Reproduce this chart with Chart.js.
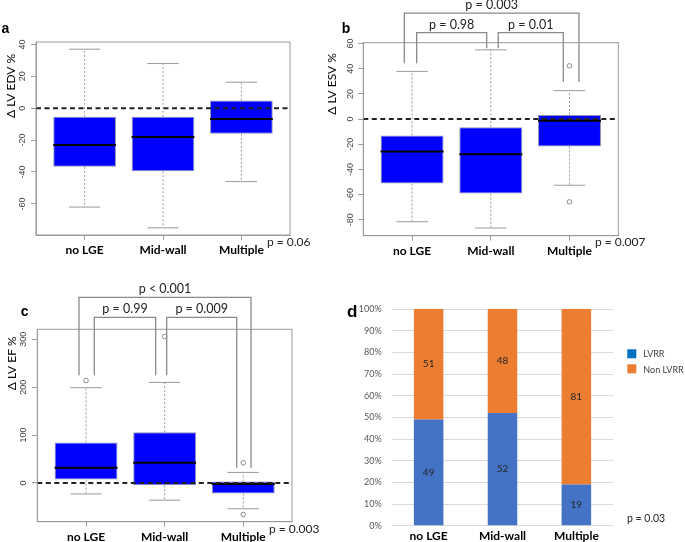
<!DOCTYPE html>
<html>
<head>
<meta charset="utf-8">
<script src="https://cdn.jsdelivr.net/npm/chart.js@4"></script>
<style>
html, body { margin: 0; padding: 0; background: #fff; overflow: hidden; }
#wrap { position: relative; width: 685px; height: 542px; }
canvas { position: absolute; }
</style>
</head>
<body>
<div id="wrap">
<canvas id="chartA" width="320" height="270" style="left:0;top:0"></canvas>
<canvas id="chartB" width="365" height="270" style="left:320px;top:0"></canvas>
<canvas id="chartC" width="340" height="272" style="left:0;top:270px"></canvas>
<canvas id="chartD" width="345" height="272" style="left:340px;top:270px"></canvas>
</div>
<script>
const groups = ['no LGE', 'Mid-wall', 'Multiple'];

// a: delta LV EDV %
const edvLow = [-62, -75, -46];
const edvQ1 = [-36.7, -39.6, -16];
const edvMedian = [-23, -18, -6.7];
const edvQ3 = [-5.4, -5.4, 4.8];
const edvHigh = [37, 28, 16.3];
const edvOutliers = [[], [], []];
const edvTicks = [-60, -40, -20, 0, 20, 40];

// b: delta LV ESV %
const esvLow = [-81.6, -86.6, -52.6];
const esvQ1 = [-51.3, -59.2, -21.8];
const esvMedian = [-25.8, -28, -1.3];
const esvQ3 = [-13, -6.6, 3.3];
const esvHigh = [37.9, 55, 22.6];
const esvOutliers = [[], [], [42.3, -65.8]];
const esvTicks = [-80, -60, -40, -20, 0, 20, 40, 60];

// c: delta LV EF %
const efLow = [-23, -36, -54];
const efQ1 = [7, -5, -22];
const efMedian = [31.5, 42, -2];
const efQ3 = [84.6, 106, 3];
const efHigh = [199, 210, 22];
const efOutliers = [[214], [306], [42, -66]];
const efTicks = [0, 100, 200, 300];

// d: LVRR share
const lvrr = [49, 52, 19];
const nonLvrr = [51, 48, 81];
const pctTicks = [0, 10, 20, 30, 40, 50, 60, 70, 80, 90, 100];

Chart.defaults.font.family = 'Lato';
Chart.defaults.animation = false;

const GREY = '#9a9a9a';

function boxPanel(id, p)
{
    const decor = {
        id: 'decor',
        afterDraw(chart) {
            const ctx = chart.ctx;
            const ys = chart.scales.y;
            const xs = chart.scales.x;
            const area = chart.chartArea;
            const bars = chart.getDatasetMeta(0).data;
            ctx.save();
            bars.forEach((bar, i) => {
                const cx = bar.x;
                const half = bar.width / 2;
                const yHi = ys.getPixelForValue(p.high[i]);
                const yLo = ys.getPixelForValue(p.low[i]);
                ctx.strokeStyle = GREY;
                ctx.lineWidth = 1;
                ctx.setLineDash([2, 2]);
                ctx.beginPath();
                ctx.moveTo(cx, ys.getPixelForValue(p.q3[i]));
                ctx.lineTo(cx, yHi);
                ctx.moveTo(cx, ys.getPixelForValue(p.q1[i]));
                ctx.lineTo(cx, yLo);
                ctx.stroke();
                ctx.setLineDash([]);
                ctx.beginPath();
                ctx.moveTo(cx - half / 2, yHi);
                ctx.lineTo(cx + half / 2, yHi);
                ctx.moveTo(cx - half / 2, yLo);
                ctx.lineTo(cx + half / 2, yLo);
                ctx.stroke();
                // median
                const ym = ys.getPixelForValue(p.median[i]);
                ctx.strokeStyle = '#000';
                ctx.lineWidth = 2;
                ctx.beginPath();
                ctx.moveTo(cx - half, ym);
                ctx.lineTo(cx + half, ym);
                ctx.stroke();
            });
            // zero line
            const y0 = ys.getPixelForValue(0);
            ctx.strokeStyle = '#222';
            ctx.lineWidth = 2;
            ctx.setLineDash([5, 3.5]);
            ctx.beginPath();
            ctx.moveTo(area.left, y0);
            ctx.lineTo(area.right, y0);
            ctx.stroke();
            ctx.setLineDash([]);
            // frame
            ctx.strokeStyle = GREY;
            ctx.lineWidth = 1;
            ctx.strokeRect(area.left, area.top, area.right - area.left, area.bottom - area.top);
            // significance brackets
            ctx.strokeStyle = '#8a8a8a';
            ctx.lineWidth = 1.3;
            ctx.fillStyle = '#222';
            ctx.font = '12.5px Lato';
            ctx.textAlign = 'center';
            ctx.textBaseline = 'middle';
            (p.brackets || []).forEach(br => {
                const x1 = xs.getPixelForValue(br.from);
                const x2 = xs.getPixelForValue(br.to);
                const yt = ys.getPixelForValue(br.top);
                ctx.beginPath();
                ctx.moveTo(x1, ys.getPixelForValue(br.footFrom));
                ctx.lineTo(x1, yt);
                ctx.lineTo(x2, yt);
                ctx.lineTo(x2, ys.getPixelForValue(br.footTo));
                ctx.stroke();
                ctx.fillText(br.label, (x1 + x2) / 2, yt - 8);
            });
            // texts
            ctx.fillStyle = '#000';
            ctx.textAlign = 'left';
            ctx.font = 'bold 14px "Liberation Sans"';
            ctx.fillText(p.letter, p.letterPos[0], p.letterPos[1]);
            ctx.font = '12px Lato';
            ctx.fillStyle = '#222';
            ctx.fillText(p.pValue, p.pPos[0], p.pPos[1]);
            ctx.save();
            ctx.translate(p.titlePos[0], p.titlePos[1]);
            ctx.rotate(-Math.PI / 2);
            ctx.textAlign = 'center';
            ctx.fillStyle = '#000';
            ctx.font = '12px Lato';
            ctx.fillText(p.title, 0, 0);
            ctx.restore();
            ctx.restore();
        }
    };

    const outlierPoints = [];
    p.outliers.forEach((vals, i) => vals.forEach(v => outlierPoints.push({x: i + 1, y: v})));

    return new Chart(document.getElementById(id), {
        type: 'bar',
        data: {
            datasets: [{
                data: groups.map((g, i) => ({x: i + 1, y: [p.q1[i], p.q3[i]]})),
                backgroundColor: '#0000ff',
                borderColor: '#8f8fb8',
                borderWidth: 1,
                borderSkipped: false,
                categoryPercentage: 1,
                barPercentage: 0.8
            }, {
                type: 'scatter',
                data: outlierPoints,
                pointRadius: 2.3,
                pointBorderWidth: 1,
                pointBorderColor: '#8a8a8a',
                pointBackgroundColor: 'rgba(0,0,0,0)'
            }]
        },
        options: {
            responsive: false,
            layout: { padding: p.padding },
            plugins: {
                legend: { display: false },
                tooltip: { enabled: false }
            },
            scales: {
                x: {
                    type: 'linear',
                    min: 0.38,
                    max: 3.62,
                    offset: false,
                    afterBuildTicks: s => { s.ticks = groups.map((g, i) => ({value: i + 1})); },
                    afterFit: s => { s.height = p.xHeight; },
                    grid: { display: true, offset: false, drawOnChartArea: false, drawTicks: true, tickLength: 5, color: GREY, tickColor: GREY },
                    border: { color: GREY },
                    ticks: {
                        callback: (v, i) => groups[i],
                        minRotation: 0,
                        maxRotation: 0,
                        autoSkip: false,
                        padding: 3,
                        color: '#000',
                        font: { family: 'Lato', size: 12, weight: 'bold' }
                    }
                },
                y: {
                    min: p.min,
                    max: p.max,
                    afterBuildTicks: s => { s.ticks = p.ticks.map(v => ({value: v})); },
                    afterFit: s => { s.width = p.yWidth; },
                    grid: { display: true, drawOnChartArea: false, drawTicks: true, tickLength: 5, color: GREY, tickColor: GREY },
                    border: { color: GREY },
                    ticks: {
                        minRotation: 90,
                        maxRotation: 90,
                        crossAlign: 'center',
                        autoSkip: false,
                        padding: 1.5,
                        color: '#444',
                        font: { family: 'Liberation Sans', size: 9 }
                    }
                }
            }
        },
        plugins: [decor]
    });
}

boxPanel('chartA', {
    low: edvLow, q1: edvQ1, median: edvMedian, q3: edvQ3, high: edvHigh, outliers: edvOutliers,
    ticks: edvTicks, min: -79.5, max: 41.5,
    padding: { top: 42, right: 30, bottom: 10, left: 0 }, yWidth: 36, xHeight: 25,
    letter: 'a', letterPos: [1.5, 29],
    title: '\u0394 LV EDV %', titlePos: [11.5, 86],
    pValue: 'p = 0.06', pPos: [267, 242.5]
});

boxPanel('chartB', {
    low: esvLow, q1: esvQ1, median: esvMedian, q3: esvQ3, high: esvHigh, outliers: esvOutliers,
    ticks: esvTicks, min: -92.7, max: 60.7,
    padding: { top: 42.7, right: 66.7, bottom: 9.3, left: 0 }, yWidth: 43.3, xHeight: 25,
    letter: 'b', letterPos: [21.7, 29],
    title: '\u0394 LV ESV %', titlePos: [12.5, 84],
    pValue: 'p = 0.007', pPos: [275, 242.5],
    brackets: [
        { from: 1.058, to: 1.948, footFrom: 44.4, footTo: 56.3, top: 68.7, label: 'p = 0.98' },
        { from: 2.095, to: 2.921, footFrom: 56.3, footTo: 29.4, top: 68.7, label: 'p = 0.01' },
        { from: 0.901, to: 3.12, footFrom: 44.4, footTo: 29.4, top: 84.2, label: 'p = 0.003' }
    ]
});

boxPanel('chartC', {
    low: efLow, q1: efQ1, median: efMedian, q3: efQ3, high: efHigh, outliers: efOutliers,
    ticks: efTicks, min: -81, max: 321,
    padding: { top: 59.3, right: 48, bottom: 0, left: 0 }, yWidth: 37.3, xHeight: 20.3,
    letter: 'c', letterPos: [20.7, 41.7],
    title: '\u0394 LV EF %', titlePos: [12.5, 93.3],
    pValue: 'p = 0.003', pPos: [269, 259.3],
    brackets: [
        { from: 1.105, to: 1.886, footFrom: 224.8, footTo: 224.8, top: 346, label: 'p = 0.99' },
        { from: 2.026, to: 2.917, footFrom: 224.8, footTo: 31.9, top: 346, label: 'p = 0.009' },
        { from: 0.91, to: 3.099, footFrom: 224.8, footTo: 31.9, top: 387.7, label: 'p < 0.001' }
    ]
});

// d: stacked percentage bars
const decorD = {
    id: 'decorD',
    afterDraw(chart) {
        const ctx = chart.ctx;
        ctx.save();
        ctx.font = '10px Lato';
        ctx.fillStyle = '#262626';
        ctx.textAlign = 'center';
        ctx.textBaseline = 'middle';
        [lvrr, nonLvrr].forEach((vals, d) => {
            chart.getDatasetMeta(d).data.forEach((bar, i) => {
                ctx.fillText(String(vals[i]), bar.x, (bar.y + bar.base) / 2);
            });
        });
        // legend
        const legend = [['LVRR', '#0070C0'], ['Non LVRR', '#ED7D31']];
        ctx.textAlign = 'left';
        ctx.font = '9px Lato';
        legend.forEach((it, i) => {
            ctx.fillStyle = it[1];
            ctx.fillRect(287.3, 79.3 + i * 15, 9, 9);
            ctx.fillStyle = '#404040';
            ctx.fillText(it[0], 303.3, 84.3 + i * 15.5);
        });
        ctx.fillStyle = '#000';
        ctx.font = 'bold 17px "Liberation Sans"';
        ctx.fillText('d', 7, 42);
        ctx.fillStyle = '#222';
        ctx.font = '10.5px Lato';
        ctx.fillText('p = 0.03', 287, 248.3);
        ctx.restore();
    }
};

new Chart(document.getElementById('chartD'), {
    type: 'bar',
    data: {
        labels: groups,
        datasets: [{
            label: 'LVRR',
            data: lvrr,
            backgroundColor: '#4472C4',
            categoryPercentage: 1,
            barPercentage: 0.4
        }, {
            label: 'Non LVRR',
            data: nonLvrr,
            backgroundColor: '#ED7D31',
            categoryPercentage: 1,
            barPercentage: 0.4
        }]
    },
    options: {
        responsive: false,
        layout: { padding: { top: 39, right: 71.7, bottom: 0, left: 0 } },
        plugins: {
            legend: { display: false },
            tooltip: { enabled: false }
        },
        scales: {
            x: {
                stacked: true,
                afterFit: s => { s.height = 16.3; },
                grid: { display: false, drawTicks: false },
                border: { display: false },
                ticks: { padding: 3, color: '#000', font: { family: 'Lato', size: 12, weight: 'bold' } }
            },
            y: {
                stacked: true,
                min: 0,
                max: 100,
                afterBuildTicks: s => { s.ticks = pctTicks.map(v => ({value: v})); },
                afterFit: s => { s.width = 51.7; },
                grid: { color: '#d9d9d9', drawTicks: false },
                border: { display: false },
                ticks: {
                    callback: v => v + '%',
                    padding: 10,
                    color: '#595959',
                    font: { family: 'Lato', size: 9 }
                }
            }
        }
    },
    plugins: [decorD]
});
</script>
</body>
</html>
